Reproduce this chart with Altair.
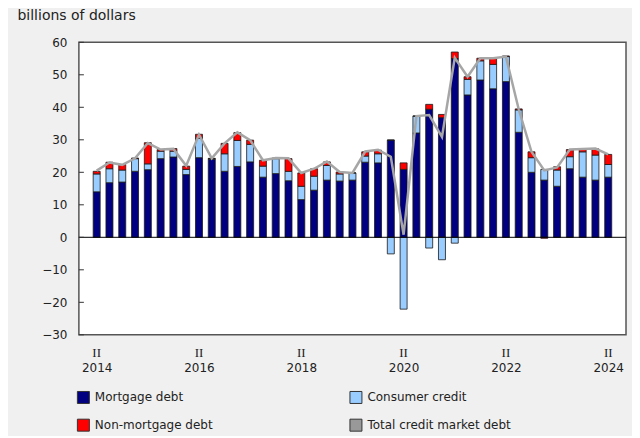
import altair as alt
import pandas as pd

# Quarters 2014 Q2 .. 2024 Q2 (index 0..40)
mortgage = [14.0, 16.8, 17.0, 20.3, 20.8, 24.2, 24.7, 19.3, 24.5, 24.0,
            20.3, 21.8, 23.2, 18.5, 19.6, 17.4, 11.6, 14.5, 17.6, 17.3,
            17.6, 23.1, 22.9, 29.9, 20.9, 32.1, 39.4, 36.8, 55.0, 43.8,
            48.4, 45.7, 47.9, 32.3, 20.0, 17.6, 15.7, 21.1, 18.5, 17.6, 18.5]
consumer = [5.5, 4.3, 3.7, 3.9, 1.8, 2.3, 1.8, 1.6, 5.9, 0.2,
            5.4, 8.0, 5.4, 3.4, 4.6, 2.9, 4.1, 4.3, 4.5, 2.2,
            2.2, 1.9, 2.8, -5.1, -22.1, 5.2, -3.3, -6.9, -1.8, 4.8,
            5.9, 7.5, 7.7, 6.9, 4.5, 3.3, 5.0, 3.7, 7.8, 7.7, 3.9]
nonmortgage = [0.8, 2.0, 1.7, 0.2, 6.5, 0.5, 0.8, 1.0, 1.3, 0.1,
               3.2, 2.4, 1.3, 1.8, 0.2, 3.9, 4.1, 2.3, 1.1, 0.6,
               0.0, 1.3, 1.1, 0.0, 2.0, 0.0, 1.5, 1.0, 2.0, 0.8,
               0.8, 1.9, 0.2, 0.3, 1.8, -0.3, 1.0, 2.2, 0.9, 1.9, 3.1]
total = [20.5, 23.0, 22.3, 24.3, 29.0, 27.0, 27.2, 22.0, 31.6, 24.3,
         28.9, 32.3, 29.9, 23.7, 24.4, 24.3, 19.8, 21.1, 23.3, 20.1,
         19.8, 26.4, 26.9, 24.8, 0.8, 37.3, 37.6, 30.9, 55.2, 49.4,
         55.1, 55.1, 55.6, 39.4, 26.3, 20.6, 21.5, 27.0, 27.2, 27.3, 25.5]

# legend order (column-major in a 2-column legend)
series_names = ["Mortgage debt", "Non-mortgage debt", "Consumer credit", "Total credit market debt"]
series_colors = ["#000080", "#ff0000", "#99ccff", "#999999"]

label_idx = [0, 8, 16, 24, 32, 40]
y_ticks = [-30, -20, -10, 0, 10, 20, 30, 40, 50, 60]

rows = []
for i in range(41):
    rows.append({"i": i, "series": "Mortgage debt", "value": mortgage[i], "ord": 0})
    rows.append({"i": i, "series": "Consumer credit", "value": consumer[i], "ord": 1})
    rows.append({"i": i, "series": "Non-mortgage debt", "value": nonmortgage[i], "ord": 2})
bars_df = pd.DataFrame(rows)
tot_df = pd.DataFrame({"i": list(range(41)), "value": total})
tick_df = pd.DataFrame({"value": y_ticks})
lab_df = pd.DataFrame({"i": label_idx, "t": ["II"] * len(label_idx)})
zero_df = pd.DataFrame({"value": [0]})

xscale = alt.Scale(domain=[-1, 41], nice=False, zero=False)
yscale = alt.Scale(domain=[-30, 60], nice=False)

FONT = "DejaVu Sans"

bars = alt.Chart(bars_df).mark_bar(size=7, stroke="#1a1a1a", strokeWidth=0.8).encode(
    x=alt.X("i:Q", scale=xscale,
            axis=alt.Axis(values=label_idx, labelExpr="'' + (2014 + datum.value/4)",
                          grid=False, ticks=False, tickSize=0, domain=False,
                          labelPadding=28, labelFontSize=12, labelFont=FONT,
                          labelColor="#222222", labelOverlap=False, title=None)),
    y=alt.Y("value:Q", stack="zero", scale=yscale,
            axis=alt.Axis(values=y_ticks, grid=False, ticks=False, tickSize=0,
                          domain=False,
                          labelPadding=12, labelFontSize=12, labelFont=FONT,
                          labelColor="#222222", labelOverlap=False, labelFlush=False,
                          labelBound=False,
                          title="billions of dollars", titleAngle=0, titleX=-62, titleY=-23,
                          titleAlign="left", titleBaseline="alphabetic", titleFontSize=14,
                          titleFont=FONT, titleFontWeight="normal", titleColor="#222222")),
    color=alt.Color("series:N", scale=alt.Scale(domain=series_names, range=series_colors),
                    legend=alt.Legend(orient="none", legendX=-2, legendY=349, columns=2,
                                      columnPadding=134, rowPadding=11, symbolType="square",
                                      symbolSize=144, symbolStrokeColor="#333333",
                                      symbolStrokeWidth=1, labelFontSize=12, labelFont=FONT,
                                      labelColor="#222222", labelOffset=5, labelLimit=300,
                                      title=None, padding=0)),
    order=alt.Order("ord:Q"),
)

zero = alt.Chart(zero_df).mark_rule(color="#000000", strokeWidth=1).encode(y="value:Q")

inticks = alt.Chart(tick_df).mark_rule(color="#333333", strokeWidth=1).encode(
    y="value:Q", x=alt.value(0), x2=alt.value(5))

line = alt.Chart(tot_df).mark_line(color="#a6a6a6", strokeWidth=2.5).encode(
    x="i:Q", y="value:Q")

roman = alt.Chart(lab_df).mark_text(font="Liberation Serif", fontSize=13, color="#222222",
                                    baseline="middle").encode(
    x="i:Q", y=alt.value(311), text="t:N")

chart = alt.layer(bars, zero, inticks, line, roman).properties(
    width=548, height=293,
    autosize=alt.AutoSizeParams(type="none"),
    padding={"left": 71, "top": 34, "right": 6, "bottom": 101},
).configure(background="#f0f0f0").configure_view(
    fill="white", stroke="#555555", strokeWidth=1.5
).configure_axis(labelOverlap=False).configure_axisY(labelOverlap=False, tickCount=10)

chart.save("out.html", embed_options={"renderer": "svg", "actions": False})
